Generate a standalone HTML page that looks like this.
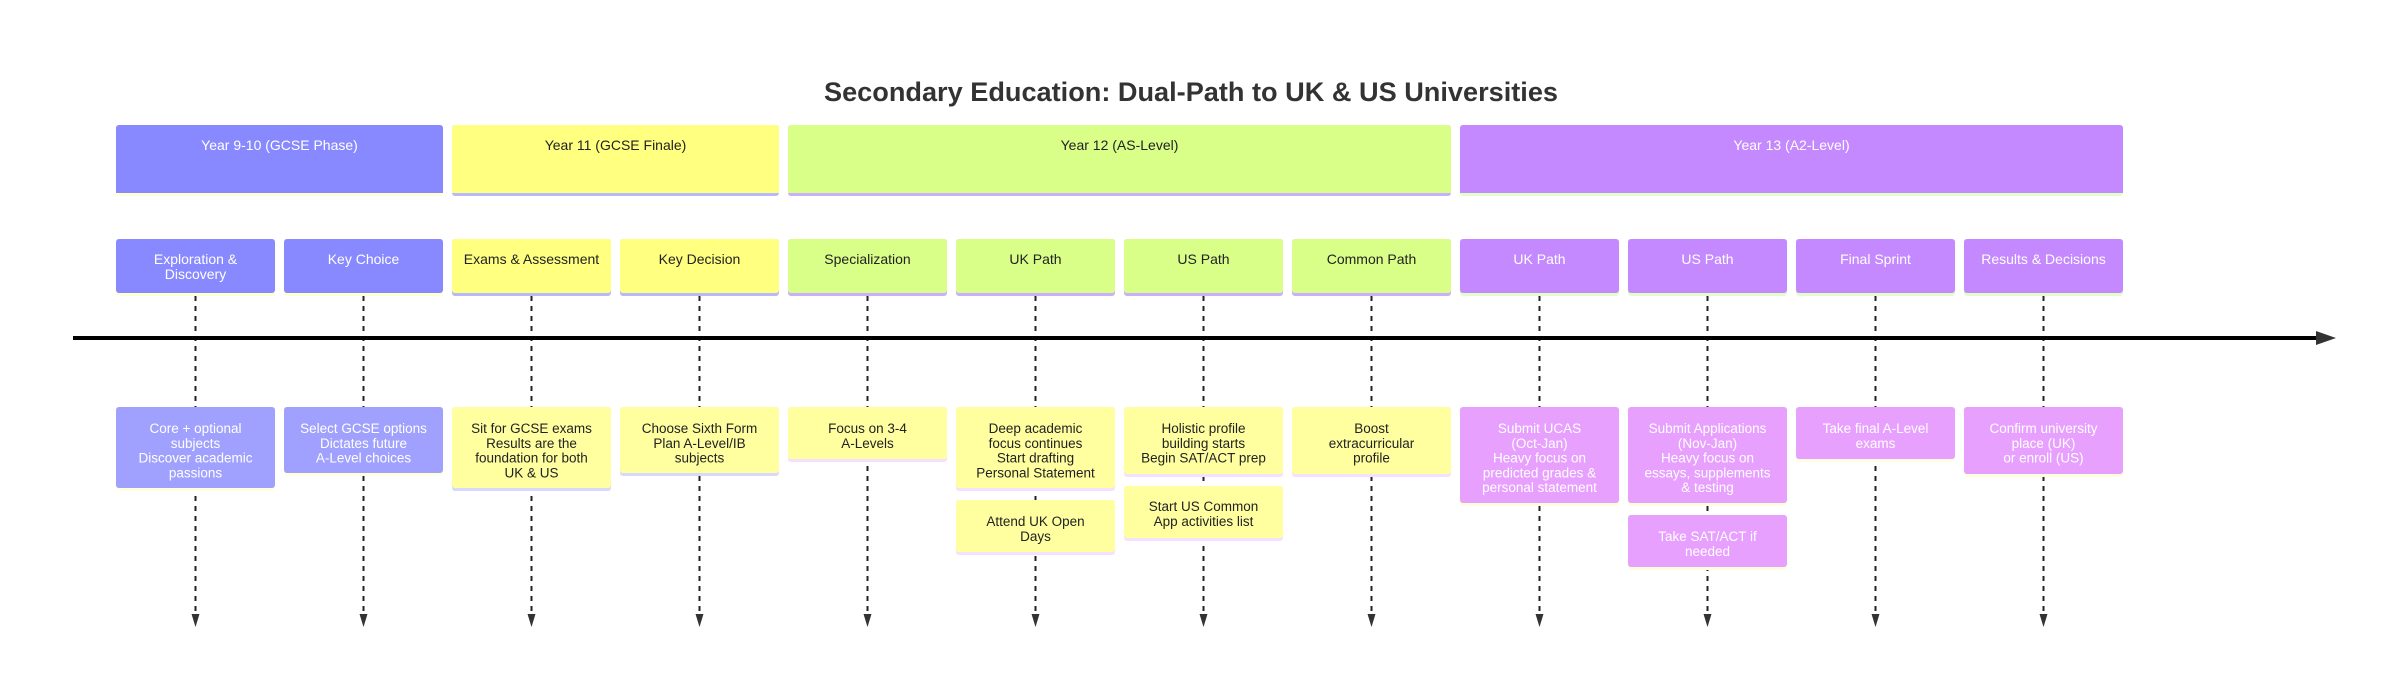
<!DOCTYPE html>
<html><head><meta charset="utf-8"><style>
html,body{margin:0;padding:0;background:#fff;}
svg{display:block;}
text{font-family:"Liberation Sans",sans-serif;}
</style></head><body>
<svg width="2407" height="700" viewBox="0 0 2407 700" xmlns="http://www.w3.org/2000/svg">
<rect width="2407" height="700" fill="#fff"/>
<text x="1191" y="101" text-anchor="middle" font-size="27" font-weight="bold" fill="#333" textLength="734" lengthAdjust="spacingAndGlyphs">Secondary Education: Dual-Path to UK &amp; US Universities</text>

<g stroke="#222" stroke-width="2" stroke-dasharray="5,5" fill="none">
<line x1="195.5" y1="296" x2="195.5" y2="616"/>
<line x1="363.5" y1="296" x2="363.5" y2="616"/>
<line x1="531.5" y1="296" x2="531.5" y2="616"/>
<line x1="699.5" y1="296" x2="699.5" y2="616"/>
<line x1="867.5" y1="296" x2="867.5" y2="616"/>
<line x1="1035.5" y1="296" x2="1035.5" y2="616"/>
<line x1="1203.5" y1="296" x2="1203.5" y2="616"/>
<line x1="1371.5" y1="296" x2="1371.5" y2="616"/>
<line x1="1539.5" y1="296" x2="1539.5" y2="616"/>
<line x1="1707.5" y1="296" x2="1707.5" y2="616"/>
<line x1="1875.5" y1="296" x2="1875.5" y2="616"/>
<line x1="2043.5" y1="296" x2="2043.5" y2="616"/>
</g>
<g fill="#333">
<polygon points="191.5,614 199.5,614 195.5,627"/>
<polygon points="359.5,614 367.5,614 363.5,627"/>
<polygon points="527.5,614 535.5,614 531.5,627"/>
<polygon points="695.5,614 703.5,614 699.5,627"/>
<polygon points="863.5,614 871.5,614 867.5,627"/>
<polygon points="1031.5,614 1039.5,614 1035.5,627"/>
<polygon points="1199.5,614 1207.5,614 1203.5,627"/>
<polygon points="1367.5,614 1375.5,614 1371.5,627"/>
<polygon points="1535.5,614 1543.5,614 1539.5,627"/>
<polygon points="1703.5,614 1711.5,614 1707.5,627"/>
<polygon points="1871.5,614 1879.5,614 1875.5,627"/>
<polygon points="2039.5,614 2047.5,614 2043.5,627"/>
</g>

<line x1="73" y1="338" x2="2320" y2="338" stroke="#000" stroke-width="4"/>
<polygon points="2316,331 2336,338 2316,345" fill="#333"/>

<g>
<rect x="116" y="125" width="327" height="71" rx="3" fill="#ffffd6"/>
<rect x="116" y="125" width="327" height="68" rx="3" fill="#8888ff"/>
<rect x="116" y="190" width="327" height="3" fill="#8888ff"/>
<text x="279.5" y="150" text-anchor="middle" font-size="14" fill="#fff">Year 9-10 (GCSE Phase)</text>

<rect x="452" y="125" width="327" height="71" rx="3" fill="#b8b8ff"/>
<rect x="452" y="125" width="327" height="68" rx="3" fill="#ffff80"/>
<rect x="452" y="190" width="327" height="3" fill="#ffff80"/>
<text x="615.5" y="150" text-anchor="middle" font-size="14" fill="#222">Year 11 (GCSE Finale)</text>

<rect x="788" y="125" width="663" height="71" rx="3" fill="#c8b0ff"/>
<rect x="788" y="125" width="663" height="68" rx="3" fill="#d9ff88"/>
<rect x="788" y="190" width="663" height="3" fill="#d9ff88"/>
<text x="1119.5" y="150" text-anchor="middle" font-size="14" fill="#222">Year 12 (AS-Level)</text>

<rect x="1460" y="125" width="663" height="71" rx="3" fill="#e0ffc8"/>
<rect x="1460" y="125" width="663" height="68" rx="3" fill="#c488ff"/>
<rect x="1460" y="190" width="663" height="3" fill="#c488ff"/>
<text x="1791.5" y="150" text-anchor="middle" font-size="14" fill="#fff">Year 13 (A2-Level)</text>
</g>

<g font-size="14" text-anchor="middle">
<rect x="116" y="239" width="159" height="57" rx="3" fill="#ffffd6"/><rect x="116" y="239" width="159" height="54" rx="3" fill="#8888ff"/>
<text x="195.5" y="264" fill="#fff">Exploration &amp;</text><text x="195.5" y="279" fill="#fff">Discovery</text>
<rect x="284" y="239" width="159" height="57" rx="3" fill="#ffffd6"/><rect x="284" y="239" width="159" height="54" rx="3" fill="#8888ff"/>
<text x="363.5" y="264" fill="#fff">Key Choice</text>

<rect x="452" y="239" width="159" height="57" rx="3" fill="#b8b8ff"/><rect x="452" y="239" width="159" height="54" rx="3" fill="#ffff80"/>
<text x="531.5" y="264" fill="#222">Exams &amp; Assessment</text>
<rect x="620" y="239" width="159" height="57" rx="3" fill="#b8b8ff"/><rect x="620" y="239" width="159" height="54" rx="3" fill="#ffff80"/>
<text x="699.5" y="264" fill="#222">Key Decision</text>

<rect x="788" y="239" width="159" height="57" rx="3" fill="#c8b0ff"/><rect x="788" y="239" width="159" height="54" rx="3" fill="#d9ff88"/>
<text x="867.5" y="264" fill="#222">Specialization</text>
<rect x="956" y="239" width="159" height="57" rx="3" fill="#c8b0ff"/><rect x="956" y="239" width="159" height="54" rx="3" fill="#d9ff88"/>
<text x="1035.5" y="264" fill="#222">UK Path</text>
<rect x="1124" y="239" width="159" height="57" rx="3" fill="#c8b0ff"/><rect x="1124" y="239" width="159" height="54" rx="3" fill="#d9ff88"/>
<text x="1203.5" y="264" fill="#222">US Path</text>
<rect x="1292" y="239" width="159" height="57" rx="3" fill="#c8b0ff"/><rect x="1292" y="239" width="159" height="54" rx="3" fill="#d9ff88"/>
<text x="1371.5" y="264" fill="#222">Common Path</text>

<rect x="1460" y="239" width="159" height="57" rx="3" fill="#e0ffc8"/><rect x="1460" y="239" width="159" height="54" rx="3" fill="#c488ff"/>
<text x="1539.5" y="264" fill="#fff">UK Path</text>
<rect x="1628" y="239" width="159" height="57" rx="3" fill="#e0ffc8"/><rect x="1628" y="239" width="159" height="54" rx="3" fill="#c488ff"/>
<text x="1707.5" y="264" fill="#fff">US Path</text>
<rect x="1796" y="239" width="159" height="57" rx="3" fill="#e0ffc8"/><rect x="1796" y="239" width="159" height="54" rx="3" fill="#c488ff"/>
<text x="1875.5" y="264" fill="#fff">Final Sprint</text>
<rect x="1964" y="239" width="159" height="57" rx="3" fill="#e0ffc8"/><rect x="1964" y="239" width="159" height="54" rx="3" fill="#c488ff"/>
<text x="2043.5" y="264" fill="#fff">Results &amp; Decisions</text>
</g>

<g font-size="13.5" text-anchor="middle">
<rect x="116" y="407" width="159" height="84" rx="3" fill="#ffffe0"/><rect x="116" y="407" width="159" height="81" rx="3" fill="#a0a0ff"/>
<text fill="#fff"><tspan x="195.5" y="433">Core + optional</tspan><tspan x="195.5" y="448">subjects</tspan><tspan x="195.5" y="462.5">Discover academic</tspan><tspan x="195.5" y="477.5">passions</tspan></text>
<rect x="284" y="407" width="159" height="69" rx="3" fill="#ffffe0"/><rect x="284" y="407" width="159" height="66" rx="3" fill="#a0a0ff"/>
<text fill="#fff"><tspan x="363.5" y="433">Select GCSE options</tspan><tspan x="363.5" y="448">Dictates future</tspan><tspan x="363.5" y="462.5">A-Level choices</tspan></text>
<rect x="452" y="407" width="159" height="84" rx="3" fill="#d8d8ff"/><rect x="452" y="407" width="159" height="81" rx="3" fill="#ffffa0"/>
<text fill="#222"><tspan x="531.5" y="433">Sit for GCSE exams</tspan><tspan x="531.5" y="448">Results are the</tspan><tspan x="531.5" y="462.5">foundation for both</tspan><tspan x="531.5" y="477.5">UK &amp; US</tspan></text>
<rect x="620" y="407" width="159" height="69" rx="3" fill="#d8d8ff"/><rect x="620" y="407" width="159" height="66" rx="3" fill="#ffffa0"/>
<text fill="#222"><tspan x="699.5" y="433">Choose Sixth Form</tspan><tspan x="699.5" y="448">Plan A-Level/IB</tspan><tspan x="699.5" y="462.5">subjects</tspan></text>
<rect x="788" y="407" width="159" height="55" rx="3" fill="#f6e0ff"/><rect x="788" y="407" width="159" height="52" rx="3" fill="#ffffa0"/>
<text fill="#222"><tspan x="867.5" y="433">Focus on 3-4</tspan><tspan x="867.5" y="448">A-Levels</tspan></text>
<rect x="956" y="407" width="159" height="84" rx="3" fill="#f6e0ff"/><rect x="956" y="407" width="159" height="81" rx="3" fill="#ffffa0"/>
<text fill="#222"><tspan x="1035.5" y="433">Deep academic</tspan><tspan x="1035.5" y="448">focus continues</tspan><tspan x="1035.5" y="462.5">Start drafting</tspan><tspan x="1035.5" y="477.5">Personal Statement</tspan></text>
<rect x="956" y="500" width="159" height="55" rx="3" fill="#f6e0ff"/><rect x="956" y="500" width="159" height="52" rx="3" fill="#ffffa0"/>
<text fill="#222"><tspan x="1035.5" y="526">Attend UK Open</tspan><tspan x="1035.5" y="541">Days</tspan></text>
<rect x="1124" y="407" width="159" height="70" rx="3" fill="#f6e0ff"/><rect x="1124" y="407" width="159" height="67" rx="3" fill="#ffffa0"/>
<text fill="#222"><tspan x="1203.5" y="433">Holistic profile</tspan><tspan x="1203.5" y="448">building starts</tspan><tspan x="1203.5" y="462.5">Begin SAT/ACT prep</tspan></text>
<rect x="1124" y="486" width="159" height="55" rx="3" fill="#f6e0ff"/><rect x="1124" y="486" width="159" height="52" rx="3" fill="#ffffa0"/>
<text fill="#222"><tspan x="1203.5" y="511">Start US Common</tspan><tspan x="1203.5" y="526">App activities list</tspan></text>
<rect x="1292" y="407" width="159" height="70" rx="3" fill="#f6e0ff"/><rect x="1292" y="407" width="159" height="67" rx="3" fill="#ffffa0"/>
<text fill="#222"><tspan x="1371.5" y="433">Boost</tspan><tspan x="1371.5" y="448">extracurricular</tspan><tspan x="1371.5" y="462.5">profile</tspan></text>
<rect x="1460" y="407" width="159" height="99" rx="3" fill="#ffffe0"/><rect x="1460" y="407" width="159" height="96" rx="3" fill="#e8a0ff"/>
<text fill="#fff"><tspan x="1539.5" y="433">Submit UCAS</tspan><tspan x="1539.5" y="448">(Oct-Jan)</tspan><tspan x="1539.5" y="462.5">Heavy focus on</tspan><tspan x="1539.5" y="477.5">predicted grades &amp;</tspan><tspan x="1539.5" y="492">personal statement</tspan></text>
<rect x="1628" y="407" width="159" height="99" rx="3" fill="#ffffe0"/><rect x="1628" y="407" width="159" height="96" rx="3" fill="#e8a0ff"/>
<text fill="#fff"><tspan x="1707.5" y="433">Submit Applications</tspan><tspan x="1707.5" y="448">(Nov-Jan)</tspan><tspan x="1707.5" y="462.5">Heavy focus on</tspan><tspan x="1707.5" y="477.5">essays, supplements</tspan><tspan x="1707.5" y="492">&amp; testing</tspan></text>
<rect x="1628" y="515" width="159" height="55" rx="3" fill="#ffffe0"/><rect x="1628" y="515" width="159" height="52" rx="3" fill="#e8a0ff"/>
<text fill="#fff"><tspan x="1707.5" y="541">Take SAT/ACT if</tspan><tspan x="1707.5" y="556">needed</tspan></text>
<rect x="1796" y="407" width="159" height="55" rx="3" fill="#ffffe0"/><rect x="1796" y="407" width="159" height="52" rx="3" fill="#e8a0ff"/>
<text fill="#fff"><tspan x="1875.5" y="433">Take final A-Level</tspan><tspan x="1875.5" y="448">exams</tspan></text>
<rect x="1964" y="407" width="159" height="70" rx="3" fill="#ffffe0"/><rect x="1964" y="407" width="159" height="67" rx="3" fill="#e8a0ff"/>
<text fill="#fff"><tspan x="2043.5" y="433">Confirm university</tspan><tspan x="2043.5" y="448">place (UK)</tspan><tspan x="2043.5" y="462.5">or enroll (US)</tspan></text>
</g>
</svg>
</body></html>
